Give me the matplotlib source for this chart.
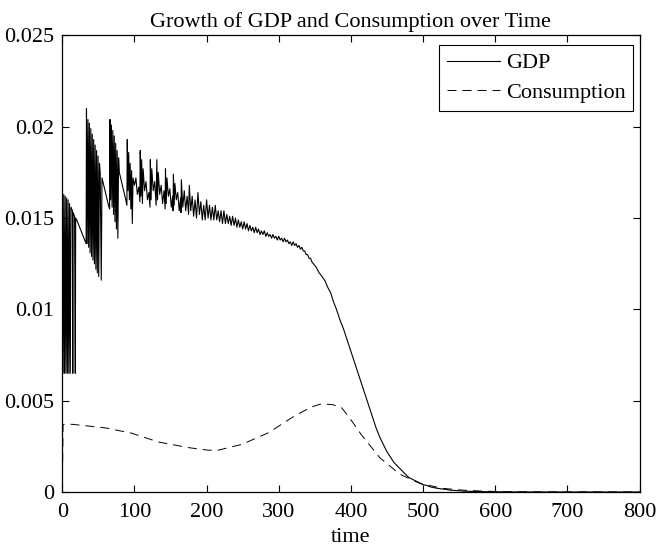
import numpy as np
import matplotlib
matplotlib.use('Agg')
import matplotlib.pyplot as plt

# GDP growth (time, value)
gdp_t = [0, 1, 2, 3, 4, 5, 6, 7, 8, 9, 10, 11, 12, 13, 14, 14.5, 15, 17, 18, 18.5, 20, 24, 28, 32, 33,
         33.5, 34.5, 35.5, 36.5, 37.5, 38.5, 39.5, 40.5, 41.5, 42.5, 43.5, 44.5, 45.5, 46.5, 47.5, 48.5,
         49.5, 50.5, 51.5, 52.5, 54, 55, 58, 61, 64, 65.5,
         66, 67, 68, 69, 70, 71, 72, 73, 74, 75, 76, 77, 78, 79, 82, 85, 88, 89.5,
         90, 91, 92, 93, 94, 95, 96, 97, 98, 100, 102, 104, 106, 107.5,
         108, 109, 110, 111, 112, 114, 116, 118, 120, 121.5,
         122, 123, 124, 126, 128, 130, 131, 132, 133, 135, 137, 139, 141, 142.5,
         143, 144, 145, 147, 149, 151, 153, 153.5, 154, 155, 156, 158, 160, 162, 164, 164.5,
         165, 167, 169, 171, 173, 175, 176, 178, 180, 182, 184, 186, 188, 190, 192, 194, 196, 198,
         200, 202, 204, 206, 208, 210, 212, 214, 216, 218, 220, 222, 224, 226, 228, 230,
         232, 234, 236, 238, 240, 242, 244, 246, 248, 250, 252, 254, 256, 258, 260, 262,
         264, 266, 268, 270, 272, 274, 276, 278, 280, 282, 284, 286, 288, 290, 292, 294,
         296, 298, 300, 302, 304, 306, 308, 310, 312, 314, 316, 318, 320, 322, 324, 326,
         328, 330, 332, 334, 336, 338, 340, 342, 344, 346, 348, 350, 352, 356, 360, 364,
         368, 372, 376, 380, 385, 390, 395, 400, 405, 410, 415, 420, 425, 430, 435, 440,
         445, 450, 455, 460, 465, 470, 475, 480, 490, 500, 505, 510, 515, 520, 525, 530,
         538, 545, 552, 560, 570, 580, 600, 650, 700, 800]
gdp = [0.0163, 0.0065, 0.0163, 0.0065, 0.0162, 0.0065, 0.0161, 0.0065, 0.0160, 0.0065, 0.0158,
       0.0065, 0.0156, 0.0155, 0.0154, 0.0065, 0.0153, 0.0151, 0.0065, 0.0150, 0.0149, 0.0145,
       0.0141, 0.0137, 0.0136,
       0.0210, 0.0136, 0.0204, 0.0134, 0.0202, 0.0131, 0.0199, 0.0129, 0.0196, 0.0127, 0.0193,
       0.0125, 0.0190, 0.0122, 0.0187, 0.0120, 0.0184, 0.0118, 0.0180, 0.0175, 0.0116, 0.0172,
       0.0167, 0.0162, 0.0157, 0.0155,
       0.0204, 0.0160, 0.0201, 0.0156, 0.0198, 0.0152, 0.0195, 0.0148, 0.0191, 0.0144, 0.0187,
       0.0139, 0.0183, 0.0175, 0.0170, 0.0165, 0.0160, 0.0157,
       0.0193, 0.0165, 0.0186, 0.0160, 0.0180, 0.0155, 0.0176, 0.0147, 0.0172, 0.0168, 0.0172,
       0.0163, 0.0167, 0.0159,
       0.0187, 0.0162, 0.0182, 0.0158, 0.0177, 0.0165, 0.0170, 0.0160, 0.0164, 0.0156,
       0.0182, 0.0160, 0.0177, 0.0165, 0.0170, 0.0157, 0.0182, 0.0160, 0.0175, 0.0163, 0.0168,
       0.0158, 0.0165, 0.0155,
       0.0177, 0.0158, 0.0172, 0.0162, 0.0166, 0.0156, 0.0162, 0.0154, 0.0174, 0.0157, 0.0169,
       0.0160, 0.0164, 0.0154, 0.0161, 0.0153,
       0.0171, 0.0156, 0.0165, 0.0154, 0.0162, 0.0152, 0.0168, 0.0154, 0.0162, 0.0151, 0.0160,
       0.0150, 0.0164, 0.0152, 0.0159, 0.0149, 0.0157, 0.0149,
       0.0160, 0.0150, 0.0157, 0.0149, 0.0156, 0.0149, 0.0157, 0.0149, 0.0154, 0.0148, 0.0154,
       0.0147, 0.0154, 0.0147, 0.0152, 0.0147,
       0.0151, 0.0146, 0.0151, 0.0146, 0.0150, 0.0145, 0.0149, 0.0145, 0.0148, 0.0144, 0.0148,
       0.0144, 0.0147, 0.0143, 0.0146, 0.0143,
       0.0145, 0.0142, 0.0145, 0.0142, 0.0144, 0.0141, 0.0143, 0.0141, 0.0143, 0.0140, 0.0142,
       0.0140, 0.0141, 0.0139, 0.0141, 0.0139,
       0.0140, 0.0138, 0.0140, 0.0138, 0.0139, 0.0137, 0.0139, 0.0137, 0.0138, 0.0136, 0.0137,
       0.0135, 0.0137, 0.0135, 0.0136, 0.0134,
       0.0135, 0.0133, 0.0134, 0.0132, 0.0132, 0.0130, 0.0130, 0.0128, 0.0128, 0.0126, 0.0125,
       0.0124, 0.0123, 0.0120, 0.0118, 0.01157,
       0.0112, 0.0109, 0.0104, 0.0100, 0.0094, 0.0089, 0.0083, 0.0077, 0.0071, 0.0065, 0.0059,
       0.0053, 0.0047, 0.0041, 0.0035, 0.0030,
       0.0026, 0.0022, 0.0019, 0.0016, 0.0014, 0.0012, 0.0010, 0.0008, 0.0006, 0.0004, 0.00036,
       0.00028, 0.00024, 0.0002, 0.00017, 0.00015,
       0.0001, 0.00008, 0.00006, 0.00004, 0.00003, 0.00002, 0.00001, 0.0, 0.0, 0.0]

# consumption growth
cons_t = [0, 1, 13, 60, 96, 133, 175, 202, 216, 249, 286, 322, 345, 359, 375, 387, 398, 414,
          440, 468, 495, 527, 555, 582, 620, 800]
cons = [0.0, 0.0037, 0.00371, 0.00351, 0.00322, 0.00274, 0.00243, 0.00229, 0.00229, 0.00261,
        0.00325, 0.00417, 0.00465, 0.00483, 0.00478, 0.00462, 0.00407, 0.00316,
        0.00188, 0.00097, 0.00048, 0.0002, 0.0001, 0.00005, 0.00001, 0.0]

xticks = [0, 100, 200, 300, 400, 500, 600, 700, 800]
yticks = [0, 0.005, 0.01, 0.015, 0.02, 0.025]
ylabels = ['0', '0.005', '0.01', '0.015', '0.02', '0.025']

plt.rcParams['font.family'] = ['Liberation Serif', 'DejaVu Serif']
plt.rcParams['font.size'] = 16
plt.rcParams['lines.scale_dashes'] = False

fig = plt.figure(figsize=(6.58, 5.46), dpi=100)
ax = fig.add_axes([0.0947, 0.0989, 0.8772, 0.8361])

ax.plot(gdp_t, gdp, color='black', linewidth=0.8, label='GDP')
ax.plot(cons_t, cons, color='black', linewidth=0.7, linestyle=(0, (6.5, 4.3)), label='Consumption')

ax.set_xlim(0, 800)
ax.set_ylim(0, 0.025)
ax.set_xticks(xticks)
ax.set_yticks(yticks)
ax.set_yticklabels(ylabels)
ax.tick_params(direction='in', length=5, width=0.8, top=True, right=True, pad=6)
ax.tick_params(axis='x', pad=8)
for s in ax.spines.values():
    s.set_linewidth(0.9)

ax.set_xlabel('time', labelpad=4)
ax.set_title('Growth of GDP and Consumption over Time', fontsize=16, pad=6)

# legend box sits just inside the upper right corner, square edges
leg = ax.legend(loc='upper right', bbox_to_anchor=(0.989, 0.979), borderaxespad=0,
                fancybox=False, framealpha=1, edgecolor='black', handlelength=2.4,
                handletextpad=0.25, borderpad=0.35, labelspacing=0.4)
leg.get_frame().set_linewidth(0.8)

fig.savefig('out.png', dpi=100)
